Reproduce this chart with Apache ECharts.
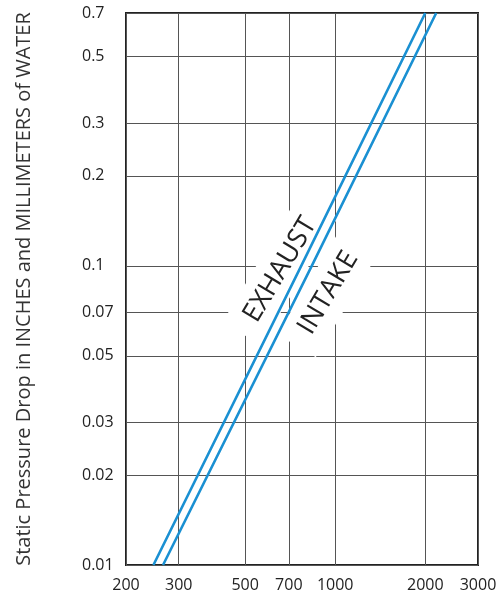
<!DOCTYPE html>
<html>
<head>
<meta charset="utf-8">
<script src="https://cdn.jsdelivr.net/npm/echarts@6/dist/echarts.min.js"></script>
<style>html,body{margin:0;padding:0;background:#fff}#c{width:504px;height:594px}</style>
</head>
<body>
<div id="c"></div>
<script>
const xTicks = [200, 300, 500, 700, 1000, 2000, 3000];
const yTicks = [0.01, 0.02, 0.03, 0.05, 0.07, 0.1, 0.2, 0.3, 0.5, 0.7];
const exhaustFlow = [247, 770, 2000];
const exhaustDrop = [0.01, 0.1, 0.7];
const intakeFlow = [266, 835, 2175];
const intakeDrop = [0.01, 0.1, 0.7];
const labelTexts = ['EXHAUST', 'INTAKE'];
const labelAnchors = [[655, 0.097], [948, 0.0812]];

const FONT = '"Open Sans", "Noto Sans", sans-serif';
const chart = echarts.init(document.getElementById('c'), null, {renderer: 'canvas'});
const fmt = v => String(+Number(v).toPrecision(3));
const zip = (a, b) => a.map((v, i) => [v, b[i]]);

chart.setOption({
  animation: false,
  backgroundColor: '#fff',
  grid: {left: 126, right: 26, top: 13, bottom: 29, show: true, borderColor: '#222', borderWidth: 2, backgroundColor: 'transparent'},
  xAxis: {
    type: 'log', min: 200, max: 3000,
    axisLine: {show: false},
    axisTick: {show: false, customValues: xTicks},
    axisLabel: {customValues: xTicks, formatter: fmt, color: '#222', fontSize: 16, fontFamily: FONT, margin: 12, showMinLabel: true, showMaxLabel: true},
    splitLine: {show: true, customValues: xTicks, lineStyle: {color: '#555', width: 1}},
    minorSplitLine: {show: false}
  },
  yAxis: {
    type: 'log', min: 0.01, max: 0.7,
    name: 'Static Pressure Drop in INCHES and MILLIMETERS of WATER',
    nameLocation: 'middle', nameGap: 92,
    nameTextStyle: {color: '#333', fontSize: 20, fontFamily: FONT},
    axisLine: {show: false},
    axisTick: {show: false, customValues: yTicks},
    axisLabel: {customValues: yTicks, formatter: fmt, color: '#222', fontSize: 16, fontFamily: FONT, margin: 44, align: 'left', showMinLabel: true, showMaxLabel: true},
    splitLine: {show: true, customValues: yTicks, lineStyle: {color: '#555', width: 1}}
  },
  series: [
    {type: 'line', name: 'EXHAUST', data: zip(exhaustFlow, exhaustDrop), showSymbol: false, z: 5, lineStyle: {color: '#1a90d2', width: 2.6}},
    {type: 'line', name: 'INTAKE', data: zip(intakeFlow, intakeDrop), showSymbol: false, z: 5, lineStyle: {color: '#1a90d2', width: 2.6}}
  ]
});

const elems = labelTexts.map((t, i) => {
  const p = chart.convertToPixel({gridIndex: 0}, labelAnchors[i]);
  return {
    type: 'text', x: p[0], y: p[1], rotation: 59 * Math.PI / 180, z: 3,
    style: {text: t, font: '27px ' + FONT, fill: '#222', align: 'center', verticalAlign: 'middle',
            backgroundColor: '#fff', padding: [9, 16]}
  };
});
chart.setOption({graphic: elems});
</script>
</body>
</html>
